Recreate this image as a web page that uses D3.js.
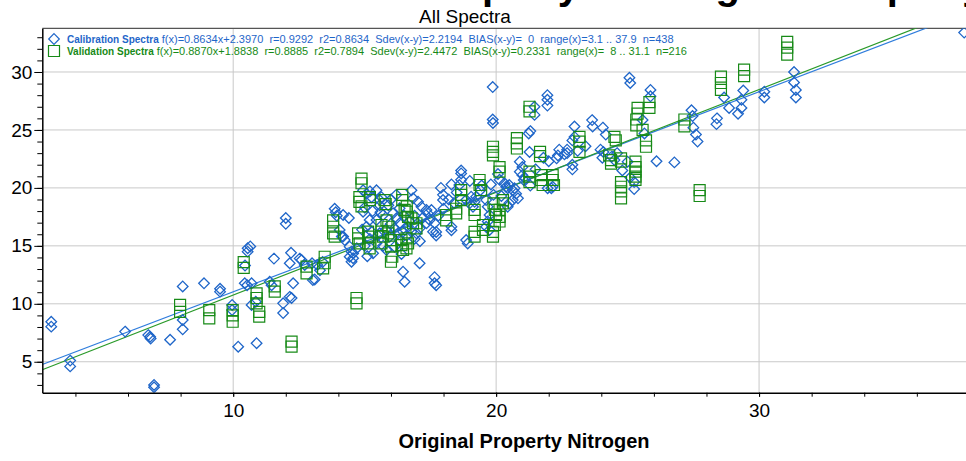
<!DOCTYPE html>
<html>
<head>
<meta charset="utf-8">
<script src="https://cdn.jsdelivr.net/npm/d3@7.9.0/dist/d3.min.js"></script>
<style>
  html, body { margin: 0; padding: 0; background: #fff; }
  svg { display: block; font-family: Arial, "Liberation Sans", sans-serif; }
</style>
</head>
<body>
<svg id="chart" width="966" height="461"></svg>
<script>
// ---- data ----
const calibration = [
  [3.08,8.45],[3.08,8.03],[3.8,5.1],[3.8,4.6],[5.89,7.6],[6.77,7.3],[6.84,7.16],[6.86,7.0],
  [6.99,3.0],[6.99,2.8],[7.6,6.9],[8.08,11.5],[8.08,8.6],[8.08,7.8],[8.89,11.77],[9.5,11.3],
  [9.5,11.05],[9.96,9.9],[9.96,9.46],[10.19,6.3],[10.44,11.77],[10.53,11.6],[10.7,11.77],
  [10.7,9.9],[10.86,10.18],[10.89,6.6],[11.39,11.9],[11.46,11.6],[11.9,10.04],[11.9,9.2],
  [12.15,10.6],[12.22,10.5],[12.28,11.77],[13.03,12.05],
  [10.45,13.3],[10.55,14.8],[10.65,14.95],[10.55,14.5],[11.55,13.9],[12.0,17.4],[12.0,16.9],
  [12.15,13.5],[12.2,14.4],[12.6,13.78],[12.72,13.35],[12.53,13.9],[13.0,13.5],[13.2,13.35],
  [13.4,13.6],[13.3,12.9],[13.1,12.1],
  [13.9,17.9],[13.94,17.6],[13.86,18.2],[14.18,17.66],[14.05,16.37],[14.18,15.8],[14.24,15.5],
  [14.13,15.8],[14.4,17.4],[14.43,14.93],[14.5,14.5],[14.56,14.35],[14.43,14.06],[14.5,13.63],
  [14.56,13.93],[14.94,19.8],[15.07,19.5],[15.45,19.8],[15.2,19.7],[15.26,19.2],[15.57,18.95],
  [15.64,19.2],[15.57,18.5],[16.78,19.8],[16.84,19.1],
  [16.08,17.81],[16.21,17.38],[16.33,16.95],[16.14,16.51],[16.27,16.08],[16.46,16.22],[15.95,15.79],
  [16.33,15.5],[16.14,14.93],[15.83,14.64],[15.45,15.22],[15.32,14.36],[15.57,16.08],[15.45,17.23],
  [15.19,17.23],[14.94,17.95],[15.07,16.65],[15.26,16.22],[15.7,17.66],[16.65,16.65],[16.78,16.22],
  [16.97,16.08],[17.09,16.51],[17.35,16.95],[17.47,17.23],[17.6,16.22],[17.54,18.09],[17.16,18.38],
  [17.03,18.81],[16.33,18.24],[17.35,18.1],[17.4,17.8],[17.98,19.4],[17.98,18.95],[17.66,16.95],
  [17.72,16.2],[17.72,15.9],[18.3,16.65],[18.3,16.35],
  [15.0,18.3],[15.3,18.0],[15.6,17.9],[15.9,18.5],[16.0,19.0],[16.2,19.4],[16.5,17.6],[16.7,17.1],
  [16.9,17.6],[17.2,17.4],[15.2,15.6],[15.5,15.9],[15.8,16.4],[16.0,16.9],[16.6,15.9],[16.9,15.6],
  [17.1,15.4],[15.0,15.0],[15.7,15.0],[16.4,14.3],[15.1,14.1],[14.7,14.8],[14.9,16.4],[17.8,17.6],
  [18.0,18.2],[18.2,19.0],[18.5,19.6],[18.4,18.7],[17.9,20.0],[18.3,20.3],
  [18.67,21.5],[18.67,21.25],[18.67,20.7],[18.6,20.25],[18.86,18.95],[18.99,18.67],[19.05,19.24],
  [19.12,18.38],[19.18,18.8],[19.24,19.24],[18.86,15.5],[18.92,15.2],[19.45,20.2],[19.0,20.6],
  [19.4,19.8],[19.8,20.3],[19.9,19.4],[20.2,19.3],
  [19.62,18.95],[19.68,18.38],[19.75,17.66],[19.68,17.1],[19.62,16.65],[19.75,16.37],
  [20.07,21.2],[20.13,20.7],[20.32,20.4],[20.38,20.1],[20.44,19.97],[20.5,20.25],[20.63,19.8],
  [20.7,19.97],[20.76,19.5],[20.83,19.1],[20.63,18.95],[20.5,18.67],[20.44,18.38],
  [20.9,22.26],[21.0,21.8],[20.9,21.4],[21.0,21.1],[21.05,20.68],[21.1,20.8],[21.3,20.2],
  [21.5,21.6],[21.8,22.6],[22.0,22.3],[22.6,22.9],[23.1,23.2],[23.4,23.6],[24.6,23.0],
  [22.15,20.1],[21.96,19.97],[22.1,19.97],
  [17.09,13.5],[16.46,12.77],[16.52,11.9],[17.66,12.3],[17.66,11.77],[17.72,11.6],
  [19.88,25.6],[19.87,28.7],[19.87,25.9],[21.24,24.7],[21.3,24.9],[21.46,27.0],[21.46,26.3],
  [21.95,27.6],[21.95,28.0],[21.95,27.1],[22.98,25.3],[22.98,24.4],[22.9,24.1],[21.27,23.1],
  [22.4,23.3],[22.35,22.8],[22.3,22.55],[22.7,23.3],[22.7,23.0],[22.9,22.0],[22.9,21.6],
  [24.4,22.7],[24.5,22.4],[25.0,22.26],[25.25,20.5],[25.25,19.9],[25.57,25.86],[25.64,24.7],
  [23.65,25.85],[23.67,25.3],[23.97,23.3],[24.08,23.1],[24.04,22.6],[24.06,25.2],[24.17,24.6],
  [25.07,29.5],[25.1,29.05],[25.87,28.45],[25.87,27.9],[24.8,21.5],[25.1,20.9],[26.1,22.3],
  [26.78,22.2],[27.43,26.7],[27.47,26.2],[27.5,25.2],[27.6,24.6],[27.66,24.0],[28.4,26.0],
  [28.38,25.5],[28.67,27.8],[28.86,26.9],[29.2,26.4],[29.33,27.6],[29.33,26.9],[29.4,28.4],
  [30.2,28.3],[30.2,27.8],[31.33,30.0],[31.33,29.1],[31.4,28.45],[31.4,27.8],[37.8,33.4]
];

const validation = [
  [7.98,9.9],[7.98,9.3],[9.09,9.46],[9.09,8.75],[9.98,9.46],[9.98,9.0],[9.98,8.45],[10.4,13.6],
  [10.4,13.1],[10.89,10.9],[10.89,10.5],[10.89,10.04],[10.99,9.3],[10.99,8.9],[11.58,11.5],
  [11.58,11.05],[12.22,6.73],[12.22,6.3],[12.79,13.2],[12.79,12.63],[13.48,14.06],[13.48,13.5],
  [13.42,13.06],[13.8,17.2],[13.8,16.65],[13.8,16.08],[13.86,15.8],[14.69,10.5],[14.69,10.04],
  [14.75,16.08],[14.75,15.65],[14.81,15.22],[14.88,20.8],[14.88,20.4],[14.8,19.2],[14.8,18.8],
  [14.88,18.4],[15.2,19.2],[15.2,18.95],[15.13,16.22],[15.19,15.79],[15.13,15.22],[15.19,14.79],
  [15.64,16.8],[15.64,16.22],[15.7,15.79],[15.64,15.22],[15.76,18.95],[15.8,18.6],[15.83,17.2],
  [15.9,16.65],[15.9,16.08],[16.0,15.5],[16.0,14.93],[16.05,14.06],[16.0,13.63],[16.4,15.5],
  [16.4,15.07],[16.46,14.64],[16.43,19.4],[16.43,18.95],[16.52,18.1],[16.59,15.65],[16.65,15.22],
  [16.59,14.79],[16.6,18.4],[16.6,17.95],[16.65,17.5],[16.78,17.37],[16.84,16.95],[16.97,16.95],
  [16.97,16.5],[18.1,17.66],[18.1,17.2],[18.48,18.2],[18.48,17.8],[18.67,19.8],[18.67,19.4],
  [18.67,18.95],[19.37,20.68],[19.37,20.25],[19.43,19.8],[19.18,18.1],[19.18,17.66],[19.18,16.2],
  [19.18,15.8],[19.5,16.8],[19.5,16.37],[19.9,18.67],[19.95,18.1],[20.0,17.66],[19.95,16.8],
  [19.88,16.2],[19.88,15.8],[20.13,18.1],[20.13,17.5],[20.13,17.1],[20.26,18.95],[20.26,18.67],
  [20.13,21.8],[20.13,21.4],[19.88,23.55],[19.88,23.1],[19.88,22.8],[20.79,24.3],[20.79,23.85],
  [20.79,23.4],[21.27,27.0],[21.27,26.6],[21.67,23.1],[21.67,22.75],[21.27,21.4],[21.27,20.97],
  [21.27,20.5],[21.71,21.1],[21.71,20.68],[21.77,20.25],[22.15,21.1],[22.15,20.68],[22.2,20.25],
  [23.17,24.4],[23.17,24.0],[23.17,23.1],[24.5,24.4],[24.55,24.1],[24.3,22.8],[24.37,22.4],
  [24.37,22.1],[24.75,22.55],[24.75,22.26],[24.75,20.5],[24.75,20.1],[24.75,19.7],[24.75,19.1],
  [25.3,22.26],[25.3,21.8],[25.3,21.4],[25.3,20.97],[25.3,20.7],[25.38,26.9],[25.38,26.4],
  [25.33,25.9],[25.33,25.4],[25.57,25.0],[25.7,24.1],[25.7,23.55],[25.83,27.4],[25.83,26.9],
  [27.16,25.9],[27.16,25.3],[27.74,19.8],[27.74,19.3],[28.55,29.6],[28.55,29.05],[28.55,28.45],
  [29.43,30.2],[29.43,29.65],[31.07,32.6],[31.07,32.1],[31.07,31.5]
];

const calFit = { slope: 0.8634, intercept: 2.3970 };
const valFit = { slope: 0.8870, intercept: 1.8838 };

const xTicks = [10, 20, 30];
const yTicks = [5, 10, 15, 20, 25, 30];

const legendRows = [
  { name: 'Calibration Spectra', stats: 'f(x)=0.8634x+2.3970  r=0.9292  r2=0.8634  Sdev(x-y)=2.2194  BIAS(x-y)=  0  range(x)=3.1 .. 37.9  n=438', color: '#1f66c9', shape: 'diamond' },
  { name: 'Validation Spectra', stats: 'f(x)=0.8870x+1.8838  r=0.8885  r2=0.7894  Sdev(x-y)=2.4472  BIAS(x-y)=0.2331  range(x)=  8 .. 31.1  n=216', color: '#178a17', shape: 'square' }
];

// page heading, cut off by the top edge (only its descenders show)
const pageTitle = 'Predicted Property vs. Original Property';
const chartTitle = 'All Spectra';
const xLabel = 'Original Property Nitrogen';

// ---- layout ----
const plot = { left: 42.3, right: 966, top: 28.3, bottom: 392.7 };
const blue = '#1f66c9', green = '#178a17';

const x = d3.scaleLinear().domain([2.74, 37.87]).range([plot.left, plot.right]);
const y = d3.scaleLinear().domain([2.33, 33.77]).range([plot.bottom, plot.top]);

const svg = d3.select('#chart');

svg.append('defs').append('clipPath').attr('id', 'plotclip')
  .append('rect')
  .attr('x', plot.left).attr('y', plot.top)
  .attr('width', plot.right - plot.left).attr('height', plot.bottom - plot.top);

// grid lines
const grid = svg.append('g').attr('stroke', '#c9c9c9').attr('stroke-width', 1);
grid.selectAll('line.gx').data(xTicks).join('line')
  .attr('x1', d => x(d)).attr('x2', d => x(d))
  .attr('y1', plot.top).attr('y2', plot.bottom);
grid.selectAll('line.gy').data(yTicks).join('line')
  .attr('x1', plot.left).attr('x2', plot.right)
  .attr('y1', d => y(d)).attr('y2', d => y(d));

// top frame
svg.append('line')
  .attr('x1', plot.left).attr('x2', plot.right)
  .attr('y1', plot.top).attr('y2', plot.top)
  .attr('stroke', '#555').attr('stroke-width', 1.2);

// regression lines
const lines = svg.append('g').attr('clip-path', 'url(#plotclip)');
[[calFit, '#2f7ddc'], [valFit, '#2a9a2a']].forEach(([f, c]) => {
  const [x0, x1] = x.domain();
  lines.append('line')
    .attr('x1', x(x0)).attr('y1', y(f.slope * x0 + f.intercept))
    .attr('x2', x(x1)).attr('y2', y(f.slope * x1 + f.intercept))
    .attr('stroke', c).attr('stroke-width', 1.2);
});

// markers
const diamond = 'M0,-5.3L5.3,0L0,5.3L-5.3,0Z';
const square = 'M-5.5,-5.5H5.5V5.5H-5.5Z';
const marks = svg.append('g').attr('clip-path', 'url(#plotclip)').attr('fill', 'none');

marks.append('g').selectAll('path').data(calibration).join('path')
  .attr('d', diamond)
  .attr('transform', d => `translate(${x(d[0])},${y(d[1])})`)
  .attr('stroke', blue).attr('stroke-width', 1.3);

marks.append('g').selectAll('path').data(validation).join('path')
  .attr('d', square)
  .attr('transform', d => `translate(${x(d[0])},${y(d[1])})`)
  .attr('stroke', green).attr('stroke-width', 1.2);

// axes
const axisStyle = g => {
  g.select('.domain').attr('stroke', '#000').attr('stroke-width', 1.5);
  g.selectAll('.tick line').attr('stroke', '#000').attr('stroke-width', 1);
  g.selectAll('.tick text').attr('fill', '#000').style('font-size', '19px')
    .style('font-family', 'Arial, "Liberation Sans", sans-serif');
};

svg.append('g')
  .attr('transform', `translate(0,${plot.bottom})`)
  .call(d3.axisBottom(x).tickValues(d3.range(4, 38, 2)).tickSize(4).tickFormat('').tickSizeOuter(0))
  .call(axisStyle);
svg.append('g')
  .attr('transform', `translate(0,${plot.bottom})`)
  .call(d3.axisBottom(x).tickValues(xTicks).tickSize(4).tickPadding(7).tickSizeOuter(0))
  .call(axisStyle)
  .call(g => g.select('.domain').remove());

svg.append('g')
  .attr('transform', `translate(${plot.left},0)`)
  .call(d3.axisLeft(y).tickValues(d3.range(3, 34, 1)).tickSize(5).tickFormat('').tickSizeOuter(0))
  .call(axisStyle);
svg.append('g')
  .attr('transform', `translate(${plot.left},0)`)
  .call(d3.axisLeft(y).tickValues(yTicks).tickSize(8).tickPadding(2).tickSizeOuter(0))
  .call(axisStyle)
  .call(g => g.select('.domain').remove());

// titles
svg.append('text')
  .attr('x', 222).attr('y', -1)
  .style('font-size', '40px').style('font-weight', 'bold')
  .text(pageTitle);

svg.append('text')
  .attr('x', 465).attr('y', 23)
  .attr('text-anchor', 'middle')
  .style('font-size', '19px')
  .text(chartTitle);

svg.append('text')
  .attr('x', 524).attr('y', 448)
  .attr('text-anchor', 'middle')
  .style('font-size', '20px').style('font-weight', 'bold')
  .text(xLabel);

// legend
const legend = svg.append('g');
legendRows.forEach((row, i) => {
  const cy = 39 + i * 12;
  legend.append('path')
    .attr('d', row.shape === 'diamond' ? diamond : square)
    .attr('transform', `translate(54,${cy})`)
    .attr('fill', 'none').attr('stroke', row.color).attr('stroke-width', 1.2);
  const t = legend.append('text')
    .attr('x', 67).attr('y', cy + 3.6)
    .attr('fill', row.color)
    .style('white-space', 'pre');
  t.append('tspan').style('font-weight', 'bold').style('font-size', '10px').text(row.name);
  t.append('tspan').style('font-size', '11px').text(' ' + row.stats);
});
</script>
</body>
</html>
